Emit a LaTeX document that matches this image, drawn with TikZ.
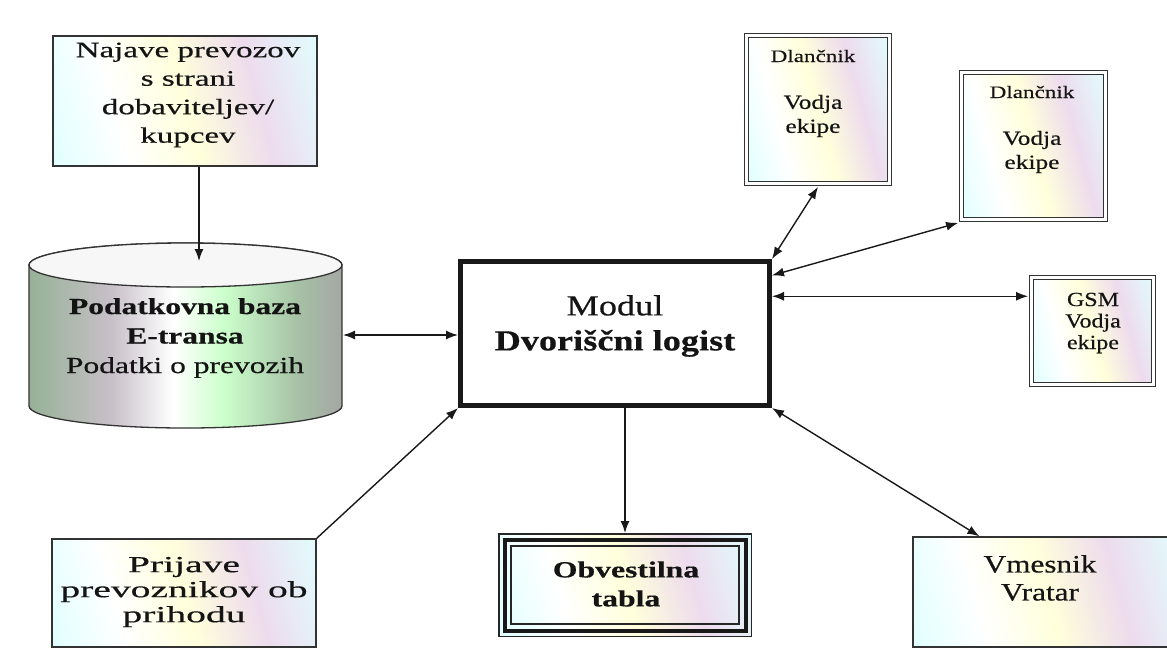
\documentclass[tikz,border=0pt]{standalone}
\usepackage{fontspec}
\setmainfont{Liberation Serif}
\usetikzlibrary{arrows.meta,calc}
\newcommand\ff[3]{\fontspec{Liberation Serif}[FakeStretch=#1,FakeBold=0.5]\fontsize{#2}{#3}\selectfont}
\pgfdeclarehorizontalshading{pastel}{100bp}{color(0bp)=(violet!16!white); color(18bp)=(cyan!13!white); color(35bp)=(white); color(50bp)=(yellow!14!white); color(65bp)=(violet!14!white); color(82bp)=(cyan!12!white); color(100bp)=(pink!16!white)}
\pgfdeclarehorizontalshading{cylbody}{100bp}{color(0bp)=(black!60); color(12bp)=(violet!40!black!50); color(26bp)=(green!25!black!40); color(38bp)=(violet!25!black!25); color(48bp)=(white); color(56bp)=(green!20!white); color(68bp)=(green!30!black!35); color(82bp)=(violet!40!black!45); color(100bp)=(black!60)}
\begin{document}
\begin{tikzpicture}[x=1pt,y=-1pt,
  conn/.style={line width=1.4pt, draw=black!90},
  tip/.tip={Latex[length=12pt,width=9pt]},
  arr/.style={conn,-tip},
  barr/.style={conn,tip-tip},
  pbox/.style={draw=black!80, line width=1.5pt, shade, shading=pastel, shading angle=15, inner sep=0pt, outer sep=0.75pt},
  dbox/.style={pbox, double=white, double distance=2.6pt, line width=1.6pt, outer sep=3.4pt},
  txt/.style={align=center, inner sep=0pt, text=black!92}]
\useasboundingbox (0,0) rectangle (1167,649);
\clip (0,0) rectangle (1167,649);
\fill[white] (0,0) rectangle (1167,649);

% top-left box
\node[pbox, minimum width=264pt, minimum height=130pt] (najave) at (185,101) {};
\node[txt, font={\ff{1.5}{22}{28.5}}] (tnaj) at (188,95) {Najave prevozov\\s strani\\dobaviteljev/\\kupcev};

% database cylinder
\node[minimum width=313pt, minimum height=185pt, inner sep=0pt] (db) at (185.5,335.5) {};
\draw[line width=1.3pt, draw=black!80, shade, shading=cylbody] (29,265) -- (29,406) arc[start angle=180,end angle=0,x radius=156.5,y radius=22] -- (342,265) arc[start angle=0,end angle=-180,x radius=156.5,y radius=22] -- cycle;
\draw[line width=1.3pt, draw=black!80, fill=black!3] (185.5,265) ellipse[x radius=156.5, y radius=22];
\node[txt, font={\ff{1.37}{23}{29.5}}] (tdb) at (185,338) {\textbf{Podatkovna baza}\\\textbf{E-transa}\\Podatki o prevozih};

% module
\node[draw=black!90, line width=5pt, fill=white, minimum width=309pt, minimum height=144pt, inner sep=0pt, outer sep=2.5pt] (m) at (615,333.5) {};
\node[txt, font={\ff{1.25}{29}{35}}] (tm) at (615,326) {Modul\\\textbf{Dvoriščni logist}};

% handheld boxes
\node[dbox, minimum width=143pt, minimum height=148pt] (d1) at (818,109.5) {};
\node[txt, font={\ff{1.32}{17.5}{20}}] (td1a) at (813,56) {Dlančnik};
\node[txt, font={\ff{1.27}{20}{24}}] (td1b) at (813,116) {Vodja\\ekipe};

\node[dbox, minimum width=144pt, minimum height=147pt] (d2) at (1033.5,146) {};
\node[txt, font={\ff{1.32}{17.5}{20}}] (td2a) at (1032,92) {Dlančnik};
\node[txt, font={\ff{1.27}{20}{24}}] (td2b) at (1032,152) {Vodja\\ekipe};

% GSM box
\node[dbox, minimum width=122pt, minimum height=107pt] (gsm) at (1092.5,331) {};
\node[txt, font={\ff{1.2}{20}{21.5}}] (tgsm) at (1093,323) {GSM\\Vodja\\ekipe};

% notice board (triple border)
\node[pbox, draw=black!85, line width=1.5pt, minimum width=252.5pt, minimum height=102.5pt, outer sep=0.75pt] (ob) at (625,585) {};
\draw[line width=4pt, draw=black!90] ([shift={(6.5,6.5)}]ob.north west) rectangle ([shift={(-6.5,-6.5)}]ob.south east);
\draw[line width=1.5pt, draw=black!85] ([shift={(13,13)}]ob.north west) rectangle ([shift={(-13,-13)}]ob.south east);
\node[txt, font={\ff{1.38}{23}{29}}] (tob) at (626,584) {\textbf{Obvestilna}\\\textbf{tabla}};

% bottom-left box
\node[pbox, minimum width=264pt, minimum height=108pt] (prij) at (184,593) {};
\node[txt, font={\ff{1.72}{23}{25}}] (tprij) at (184,592) {Prijave\\prevoznikov ob\\prihodu};

% bottom-right box
\node[pbox, minimum width=267pt, minimum height=110pt] (vm) at (1046.5,592) {};
\node[txt, font={\ff{1.25}{25}{28}}] (tvm) at (1040,578) {Vmesnik\\Vratar};

% connectors
\coordinate (dbin) at (199,261);
\draw[arr] (najave.south -| dbin) -- (dbin);
\coordinate (dbr) at (343,335);
\draw[barr] (dbr) -- (dbr -| m.west);
\draw[barr] (d1.south) -- (m.north east);
\draw[barr] (d2.south west) -- ($(m.north east)!0.11!(m.south east)$);
\draw[barr] ($(m.north east)!0.25!(m.south east)$) coordinate (mg) -- (mg -| gsm.west);
\draw[arr] (m.south -| ob.north) -- (ob.north);
\draw[arr] (prij.north east) -- (m.south west);
\draw[barr] (m.south east) -- ($(vm.north west)!0.25!(vm.north east)$);
\end{tikzpicture}
\end{document}
